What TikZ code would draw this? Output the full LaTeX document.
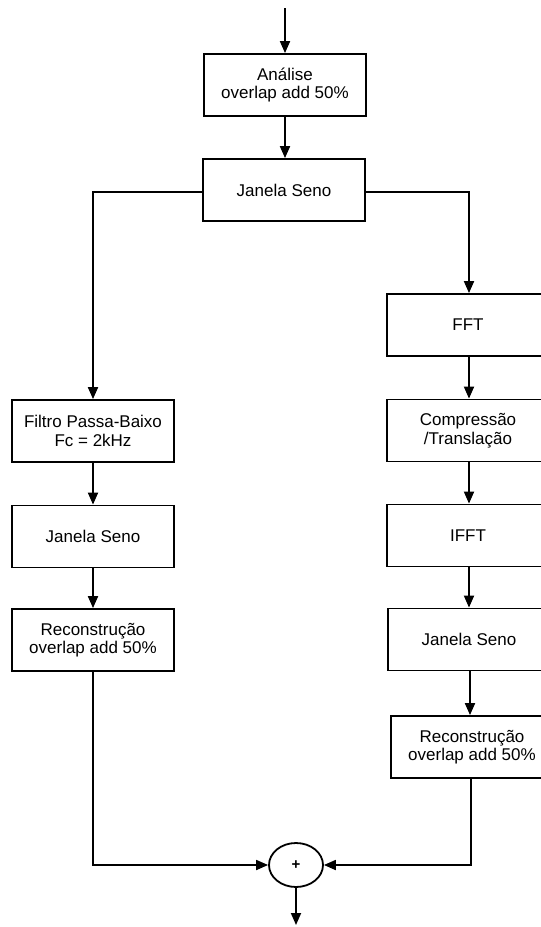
\documentclass[tikz,border=0pt]{standalone}
\usepackage{fontspec}
\setmainfont{Liberation Sans}
\usetikzlibrary{arrows.meta,shapes.geometric}
\begin{document}
\begin{tikzpicture}[x=1pt,y=-1pt,
  block/.style={draw,line width=1.8pt,fill=white,minimum width=162pt,minimum height=62pt,
    inner sep=0pt,align=center,font=\fontsize{17}{18.5}\selectfont},
  sumnode/.style={draw,line width=1.8pt,ellipse,minimum width=54pt,minimum height=44pt,inner sep=0pt,
    font=\fontsize{15}{15}\selectfont\bfseries},
  wire/.style={line width=1.8pt},
  flow/.style={wire,-{Triangle[length=12pt,width=10pt]}}]
\useasboundingbox (0,0) rectangle (541,927);
\clip (0,0) rectangle (541,927);
\fill[white] (0,0) rectangle (541,927);

% input and analysis stage
\coordinate (in) at (285,8);
\node[block] (ana) at (285,85) {Análise\\overlap add 50\%};
\node[block] (win) at (284,190) {Janela Seno};

% low-pass branch
\node[block] (lpf) at (93,431) {Filtro Passa-Baixo\\Fc = 2kHz};
\node[block] (winL) at (93,536.5) {Janela Seno};
\node[block] (recL) at (93,640) {Reconstrução\\overlap add 50\%};

% spectral branch
\node[block] (fft) at (468,325) {FFT};
\node[block] (cmp) at (468,430.5) {Compressão\\/Translação};
\node[block] (ifft) at (468,535.5) {IFFT};
\node[block] (winR) at (469,639.5) {Janela Seno};
\node[block] (recR) at (472,747) {Reconstrução\\overlap add 50\%};

% summing junction and output
\node[sumnode] (sum) at (296,865) {+};
\coordinate (out) at (296,925);

\draw[flow] (in) -- (ana.north -| in);
\draw[flow] (ana.south) -- (ana.south |- win.north);
\draw[flow] (win.west |- 0,192) -| (lpf.north);
\draw[flow] (win.east |- 0,192) -| (fft.north -| 469,0);
\draw[flow] (fft.south -| 469,0) -- (cmp.north -| 469,0);
\draw[flow] (cmp.south -| 469,0) -- (ifft.north -| 469,0);
\draw[flow] (ifft.south -| 469,0) -- (winR.north -| 469,0);
\draw[flow] (winR.south -| 470,0) -- (recR.north -| 470,0);
\draw[flow] (lpf.south) -- (winL.north);
\draw[flow] (winL.south) -- (recL.north);
\draw[flow] (recL.south) |- (sum.west);
\draw[flow] (recR.south -| 471,0) |- (sum.east);
\draw[flow] (sum.south) -- (out);
\end{tikzpicture}
\end{document}
